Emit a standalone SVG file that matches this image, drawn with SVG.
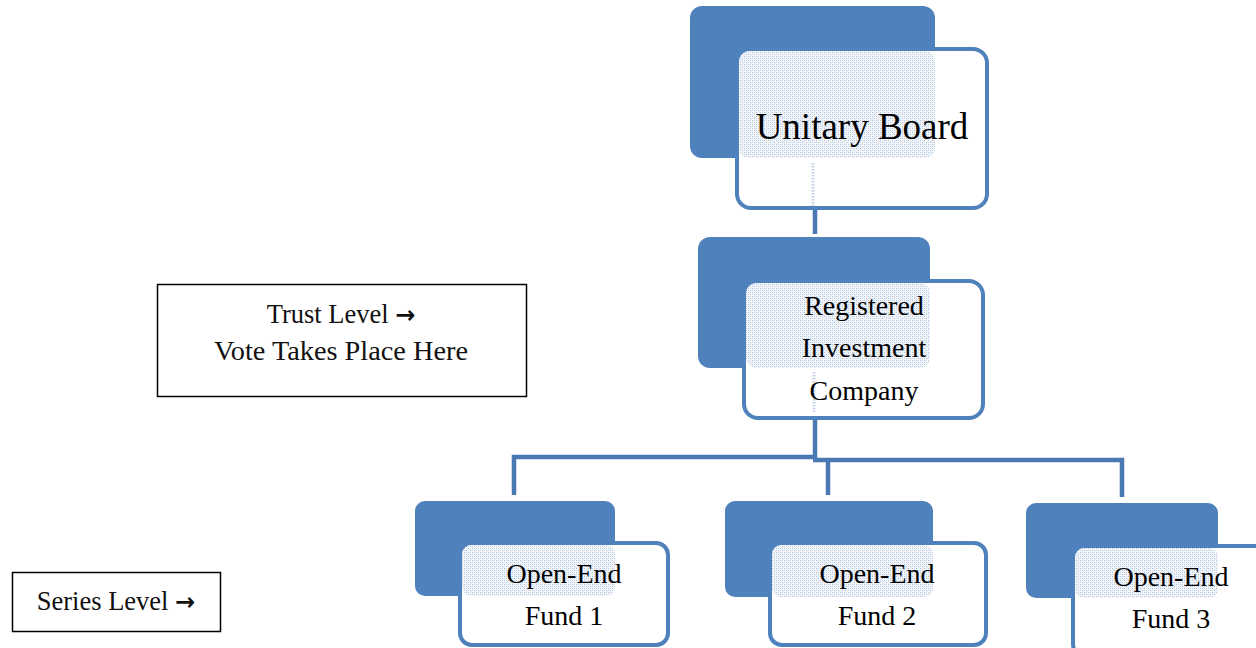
<svg xmlns="http://www.w3.org/2000/svg" width="1256" height="648" viewBox="0 0 1256 648">
<defs>
<pattern id="dots" width="4" height="4" patternUnits="userSpaceOnUse">
<rect width="4" height="4" fill="#f1f4f9"/>
<rect width="1" height="1" fill="#b0c3de"/>
<rect x="2" y="2" width="1" height="1" fill="#b0c3de"/>
<rect x="2" y="0" width="1" height="1" fill="#d3deed"/>
<rect x="0" y="2" width="1" height="1" fill="#d3deed"/>
</pattern>
<style>
.back{fill:#4f81bd}
.front{fill:#fff;stroke:#4f81bd;stroke-width:4}
.hatch{fill:url(#dots)}
.lbl{font-family:"Liberation Serif","Times New Roman",serif;fill:#000;text-anchor:middle}
.conn{fill:none;stroke:#4a78b2;stroke-width:4.5}
.faint{fill:none;stroke:#c3d2e8;stroke-width:3;stroke-dasharray:1.5 1.5}
.note{fill:#fff;stroke:#000;stroke-width:1.5}
.ntxt{font-family:"Liberation Serif","Times New Roman",serif;font-size:26.5px;fill:#111;text-anchor:middle}
.arr{font-family:"DejaVu Sans",sans-serif;font-size:24px;font-weight:bold}
</style>
</defs>
<rect width="1256" height="648" fill="#fff"/>

<g id="connectors">
<path class="conn" d="M815 208 V234"/>
<path class="conn" d="M815 418 V459"/>
<path class="conn" d="M514 495 V457 H815"/>
<path class="conn" d="M813 460 H1122 V497"/>
<path class="conn" d="M828 460 V495"/>
</g>

<g id="unitary-board">
<rect class="back" x="690" y="6" width="245" height="152" rx="12"/>
<rect class="front" x="737" y="49" width="250" height="159" rx="14"/>
<rect class="hatch" x="739" y="51" width="196" height="107" rx="10"/>
<path class="faint" d="M813 163 V206"/>
<text class="lbl" x="862" y="139" font-size="37">Unitary Board</text>
</g>

<g id="registered-investment-company">
<rect class="back" x="698" y="237" width="232" height="131" rx="12"/>
<rect class="front" x="744" y="281" width="239" height="137" rx="14"/>
<rect class="hatch" x="746" y="283" width="184" height="85" rx="10"/>
<path class="faint" d="M814 372 V412"/>
<text class="lbl" font-size="28"><tspan x="864" y="315">Registered</tspan><tspan x="864" y="357">Investment</tspan><tspan x="864" y="400">Company</tspan></text>
</g>

<g id="fund-1">
<rect class="back" x="415" y="501" width="200" height="95" rx="10"/>
<rect class="front" x="460" y="543" width="208" height="102" rx="12"/>
<rect class="hatch" x="462" y="545" width="153" height="51" rx="9"/>
<text class="lbl" font-size="28"><tspan x="564" y="583">Open-End</tspan><tspan x="564" y="625">Fund 1</tspan></text>
</g>

<g id="fund-2">
<rect class="back" x="725" y="501" width="208" height="96" rx="10"/>
<rect class="front" x="770" y="543" width="216" height="102" rx="12"/>
<rect class="hatch" x="772" y="545" width="161" height="52" rx="9"/>
<text class="lbl" font-size="28"><tspan x="877" y="583">Open-End</tspan><tspan x="877" y="625">Fund 2</tspan></text>
</g>

<g id="fund-3">
<rect class="back" x="1026" y="503" width="192" height="95" rx="10"/>
<rect class="front" x="1073" y="546" width="210" height="110" rx="12"/>
<rect class="hatch" x="1075" y="548" width="143" height="50" rx="9"/>
<text class="lbl" font-size="28"><tspan x="1171" y="586">Open-End</tspan><tspan x="1171" y="628">Fund 3</tspan></text>
</g>

<g id="trust-level-note">
<rect class="note" x="157.5" y="284.5" width="369" height="112"/>
<text class="ntxt" font-size="28"><tspan x="341" y="323" style="font-size:26.5px">Trust Level <tspan class="arr">→</tspan></tspan><tspan x="341" y="360" style="font-size:28.3px">Vote Takes Place Here</tspan></text>
</g>

<g id="series-level-note">
<rect class="note" x="12.5" y="572.5" width="208" height="59"/>
<text class="ntxt" x="116" y="610">Series Level <tspan class="arr">→</tspan></text>
</g>
</svg>
